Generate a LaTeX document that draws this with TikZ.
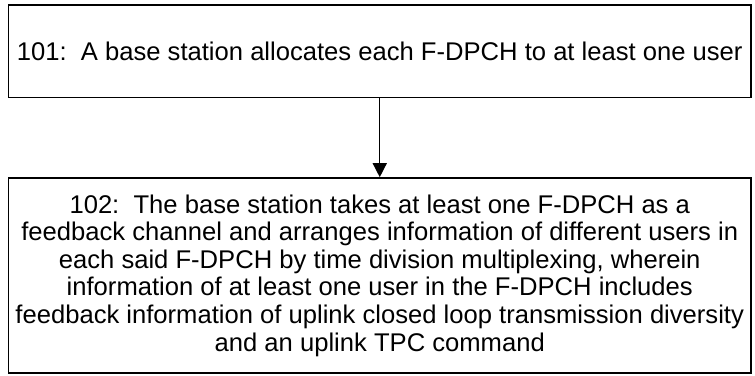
\documentclass[tikz,border=0pt]{standalone}
\usepackage{fontspec}
\setmainfont{Liberation Sans}
\usetikzlibrary{arrows.meta}
\begin{document}
\begin{tikzpicture}[x=1pt,y=1pt,
  stepbox/.style={draw=black, line width=1.6pt, inner sep=0pt, align=center,
    font=\fontsize{25.6}{27.6}\selectfont},
  flow/.style={line width=1.4pt, -{Triangle[width=14pt,length=14pt]}}]
\useasboundingbox (0,0) rectangle (755,-375);
\node[stepbox, minimum width=742.5pt, minimum height=92.5pt] (b1) at (379.75,-51.25)
  {101:\ \ A base station allocates each F-DPCH to at least one user};
\node[stepbox, minimum width=742.5pt, minimum height=195pt] (b2) at (379.75,-275.5)
  {102:\ \ The base station takes at least one F-DPCH as a\\
   feedback channel and arranges information of different users in\\
   each said F-DPCH by time division multiplexing, wherein\\
   information of at least one user in the F-DPCH includes\\
   feedback information of uplink closed loop transmission diversity\\
   and an uplink TPC command};
\draw[flow] (b1.south) -- (b2.north);
\end{tikzpicture}
\end{document}
